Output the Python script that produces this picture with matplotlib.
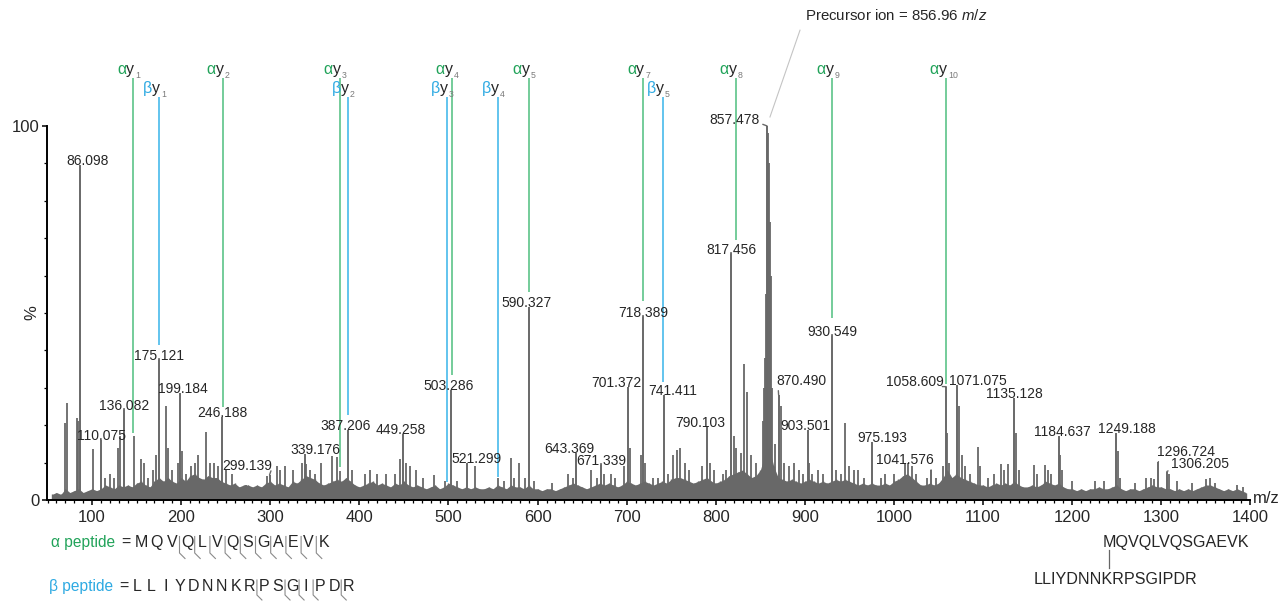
import matplotlib
matplotlib.use('Agg')
import matplotlib.pyplot as plt
import numpy as np

plt.rcParams['font.family'] = ['Liberation Sans', 'DejaVu Sans']
plt.rcParams['mathtext.fontset'] = 'custom'
plt.rcParams['mathtext.it'] = 'Liberation Sans:italic'
plt.rcParams['mathtext.rm'] = 'Liberation Sans'

PEAK = '#686868'
TXT = '#262626'
SUB = '#7a7a7a'
GREEN_TXT = '#22a35a'
GREEN_LINE = '#74cc9a'
BLUE_TXT = '#2eaae2'
BLUE_LINE = '#62c4ee'

# labelled fragment peaks (m/z, relative intensity %)
label_mz = [86.098, 110.075, 136.082, 175.121, 199.184, 246.188, 299.139,
            339.176, 387.206, 449.258, 503.286, 521.299, 590.327, 643.369,
            671.339, 701.372, 718.389, 741.411, 790.103, 817.456, 857.478,
            870.490, 903.501, 930.549, 975.193, 1041.576, 1058.609, 1071.075,
            1135.128, 1184.637, 1249.188, 1296.724, 1306.205]
label_int = [89.6, 16.0, 24.1, 37.4, 28.6, 22.2, 6.7,
             12.3, 18.7, 17.6, 29.4, 9.9, 51.6, 12.6,
             9.4, 30.2, 48.9, 28.1, 19.5, 65.8, 100.0,
             28.1, 18.7, 43.9, 15.6, 8.0, 30.3, 30.7,
             27.3, 17.1, 17.9, 10.2, 7.6]

# unlabelled peaks
minor_mz = [69.6, 71.5, 83.4, 84.5, 100.7, 115, 120, 125, 129, 131, 146.5,
            155, 158, 163, 168, 172, 182.5, 185, 190, 196, 201, 205, 211, 215,
            219, 227.5, 232, 237, 241, 250, 257, 273, 296, 307, 311, 316, 326,
            336, 340, 345, 350, 357, 369.5, 374.5, 378, 392, 406, 412, 420, 430,
            440, 446, 452, 457, 464, 471, 483.7, 496, 509, 530, 555, 562, 569.8,
            574, 579, 586, 596, 616, 633.8, 640, 660, 667, 675, 682, 687, 697,
            704, 716, 721, 730, 735, 746, 752, 756, 760, 765, 770, 785, 793, 798,
            808, 812, 820, 823, 828, 831.7, 835, 839, 845, 852.6, 854, 855.5,
            856.5, 858.5, 859.5, 860.5, 861.5, 863, 866, 873, 877, 882, 888, 893,
            898, 905, 908, 915, 920, 935, 941, 945.5, 950, 955, 960, 966, 985,
            990, 1000, 1012, 1016, 1020, 1025, 1037, 1047, 1055, 1060, 1062,
            1073, 1076, 1080, 1085, 1094.6, 1097, 1105, 1112, 1120, 1124, 1128,
            1137, 1140, 1157, 1160, 1170, 1173, 1176, 1186, 1188, 1200, 1226,
            1236, 1251, 1254, 1270, 1283, 1288, 1292, 1309, 1318, 1335, 1350,
            1355, 1360, 1385, 1392]
minor_int = [20.5, 26, 22, 21, 13.6, 6, 7, 6, 14, 17, 17,
             11, 10, 6, 8, 12, 25, 14, 8, 10, 13, 7, 9, 10,
             12, 18.3, 10, 10, 9, 8, 7, 4, 6.5, 9, 8, 9, 8,
             10, 9.5, 8, 7, 9.8, 11.8, 11.6, 7.8, 8, 7, 8, 7, 7,
             7, 11, 10, 9, 8, 6, 6.7, 5, 5, 9, 6, 5, 11.2,
             6, 9.8, 6, 5, 4.5, 7, 6, 8, 6, 7, 7, 6, 9,
             14, 12, 10, 6, 6, 7, 12, 13.4, 14, 10, 8, 9, 10, 8,
             7, 8, 17, 14, 12.6, 36.4, 29, 12, 10, 21, 30, 38,
             55, 98, 90, 74.4, 60, 30, 15, 25, 10, 9, 10, 8,
             7, 10, 7, 8, 7, 8, 7, 20.5, 9, 8, 8, 6, 6,
             7, 7, 10, 10, 9, 7, 6, 6, 9, 18, 10,
             25, 12, 9, 7, 14.3, 9, 6, 7, 9.5, 8, 9.5,
             18, 8, 9.3, 7, 9.4, 8, 7, 12, 8, 5, 5,
             5, 13, 6, 4.5, 6, 6, 5.5, 7, 5, 4.5, 5.5,
             6, 4.5, 4, 3.5]

# baseline noise, every 5 m/z from 55 to 1395
noise_mz = np.arange(55, 1400, 5)
noise_int = [
    1.5, 2, 1.5, 3, 2, 2.5, 3, 2, 2.5,
    3, 2.5, 3, 4, 3.5, 3, 4, 3.5, 4, 3.5, 4.5, 5, 4, 3.5, 5, 6, 5, 6, 5, 4.5,
    6, 5, 6.5, 7, 6, 5.5, 6.5, 6, 6, 5, 4.5, 4, 4.5, 3.5, 4, 4, 3.5, 4, 3.5, 4.5,
    5, 4, 4.5, 4, 3.5, 5, 4.5, 5.5, 6.5, 6, 5.5, 4.5, 4, 4.5, 5, 5.5, 5, 6, 5, 4,
    3.5, 4, 4.5, 5, 4, 4.5, 4, 3.5, 4.5, 4, 5, 4, 3.5, 4, 3.5, 3, 3.5, 4, 3, 3.5,
    4.5, 4, 3.5, 3, 3.5, 3, 3.5, 3, 3, 3.5, 3, 4, 3.5, 3, 4, 3.5, 3.5, 3, 4, 3,
    3, 2.5, 3, 3, 2.5, 3, 3.5, 4, 4.5, 4, 3.5, 3, 3.5, 4, 4.5, 4, 4.5, 4, 3.5, 4,
    5, 4.5, 4, 4.5, 5, 4.5, 4, 4.5, 5, 4.5, 5.5, 6, 6, 5.5, 5, 4.5, 5, 5.5, 6, 5,
    4.5, 5, 5.5, 6.5, 7, 7.5, 8, 7, 6, 6.5, 8, 12, 14, 9, 6, 5.5, 5, 5.5, 5, 4.5,
    5, 5.5, 5, 4.5, 5, 4.5, 5, 5.5, 5, 5.5, 5, 4.5, 4, 4.5, 4, 4.5, 4, 4, 4.5, 4,
    5, 5.5, 6.5, 7, 6, 5, 4, 4, 4.5, 4, 4.5, 6, 8, 6, 7, 6, 5.5, 5, 4.5, 4,
    4, 3.5, 4, 4.5, 4, 4.5, 4, 5, 4, 3.5, 3.5, 4, 3.5, 4, 5, 4.5, 4, 4.5, 3.5, 3,
    3, 2.5, 3, 2.5, 3, 3, 3.5, 3, 3, 3.5, 4, 3, 2.5, 3, 3, 2.5, 3, 3.5, 4, 3.5,
    3.5, 3, 3, 2.5, 3, 2.5, 3, 2.5, 3, 3.5, 4, 4, 3.5, 3, 2.5, 3, 2.5, 3, 2.5, 2,
]

# assigned y ions: line position, lower end of line (%), ion number
alpha_mz = [146.1, 246.6, 378.2, 503.6, 590.3, 718.4, 822.3, 930.8, 1058.3]
alpha_end = [18.0, 24.9, 8.9, 33.4, 55.7, 53.2, 69.5, 48.7, 31.0]
alpha_num = [1, 2, 3, 4, 5, 7, 8, 9, 10]
beta_mz = [175.1, 387.2, 498.0, 555.2, 740.4]
beta_end = [41.4, 22.7, 4.9, 6.2, 31.6]
beta_num = [1, 2, 3, 4, 5]

precursor_text = 'Precursor ion = 856.96 $m/z$'
alpha_seq = 'MQVQLVQSGAEVK'
beta_seq = 'LLIYDNNKRPSGIPDR'
alpha_cuts = [2, 3, 4, 5, 6, 7, 8, 9, 10, 11]
beta_cuts = [8, 10, 11, 12, 14]

# label nudges in pixels (dx, dy) and leader lines
PX = 0.72
LABEL_NUDGE = {
    '86.098': (8, 0), '199.184': (2, 0), '299.139': (-22, 5),
    '339.176': (10, 0), '387.206': (-2, 0), '449.258': (-3, 0),
    '503.286': (-3, 0), '521.299': (9, 0), '590.327': (-2, 0),
    '643.369': (-7, 0), '701.372': (-12, 0), '741.411': (9, 0),
    '790.103': (-7, 0), '870.490': (23, 10), '903.501': (-3, 0),
    '975.193': (10, 0), '1041.576': (-26, 6), '1058.609': (-31, 1),
    '1071.075': (21, 0), '1184.637': (4, 0), '1249.188': (11, 0),
    '1296.724': (28, 6), '1306.205': (33, 4),
}
LEADER_LEFT = ['299.139', '1041.576', '1058.609']
LEADER_RIGHT = ['870.490', '1296.724', '1306.205']
LABEL_FS = 10

W, H = 1288, 601
fig = plt.figure(figsize=(W / 100, H / 100), dpi=100)
ax = fig.add_axes([47.1 / W, 101 / H, (1250.4 - 47.1) / W, 490 / H])
ax.set_xlim(49.5, 1400)
ax.set_ylim(0, 131)
ax.patch.set_alpha(0)

# spectrum
ax.fill_between(noise_mz, 0, noise_int, color=PEAK, lw=0)
ax.vlines(noise_mz, 0, noise_int, color=PEAK, lw=1.0)
ax.vlines(minor_mz, 0, minor_int, color=PEAK, lw=1.3)
ax.vlines(label_mz, 0, label_int, color=PEAK, lw=1.4)

# axes styling
for s in ['top', 'right']:
    ax.spines[s].set_visible(False)
ax.spines['left'].set_bounds(0, 100)
ax.spines['left'].set_linewidth(1.4)
ax.spines['bottom'].set_linewidth(1.4)
ax.set_yticks([0, 100])
ax.set_yticks(np.arange(10, 100, 10), minor=True)
ax.set_xticks(np.arange(100, 1401, 100))
ax.set_xticks(np.arange(50, 1401, 10), minor=True)
ax.tick_params(axis='both', which='major', direction='out', length=3.5, width=1.1,
               labelsize=12, colors='black', pad=2)
ax.tick_params(axis='x', which='major', labelcolor=TXT, pad=4)
ax.tick_params(axis='y', which='major', labelcolor=TXT)
ax.tick_params(axis='both', which='minor', direction='out', length=2, width=0.9)

# peak labels
for mz, h in zip(label_mz, label_int):
    key = f'{mz:.3f}'
    if key == '857.478':
        ax.annotate(key, xy=(mz, h), xytext=(-7 * PX, 1.5 * PX), textcoords='offset points',
                    ha='right', va='baseline', fontsize=LABEL_FS, color=TXT,
                    arrowprops=dict(arrowstyle='-', color=PEAK, lw=1.0, shrinkA=0, shrinkB=0,
                                    relpos=(1, 0.3)))
        continue
    dx, dy = LABEL_NUDGE.get(key, (0, 0))
    arrow = None
    if key in LEADER_LEFT:
        arrow = dict(arrowstyle='-', color=PEAK, lw=1.0, shrinkA=0, shrinkB=0, relpos=(0.97, 0.15))
    elif key in LEADER_RIGHT:
        arrow = dict(arrowstyle='-', color=PEAK, lw=1.0, shrinkA=0, shrinkB=0, relpos=(0.03, 0.15))
    ax.annotate(key, xy=(mz, h), xytext=(dx * PX, dy * PX), textcoords='offset points',
                ha='center', va='baseline', fontsize=LABEL_FS, color=TXT, arrowprops=arrow)


# ion assignment lines and labels
def ion(mz, end, num, greek, top, gcol, lcol):
    ax.vlines(mz, end, top, color=lcol, lw=1.4)
    base = top + 1.0
    yt = ax.annotate('y', xy=(mz, base), xytext=(0.9, 0), textcoords='offset points',
                     ha='right', va='baseline', fontsize=11.5, color=TXT)
    ax.annotate(greek, xy=(0, base), xycoords=(yt, 'data'), xytext=(-0.2, 0),
                textcoords='offset points', ha='right', va='baseline', fontsize=11.5, color=gcol)
    ax.annotate(str(num), xy=(1, base), xycoords=(yt, 'data'), xytext=(0.6, -2.6),
                textcoords='offset points', ha='left', va='baseline', fontsize=6.3, color=SUB)


for mz, e, n in zip(alpha_mz, alpha_end, alpha_num):
    ion(mz, e, n, 'α', 112.8, GREEN_TXT, GREEN_LINE)
for mz, e, n in zip(beta_mz, beta_end, beta_num):
    ion(mz, e, n, 'β', 107.8, BLUE_TXT, BLUE_LINE)

# precursor annotation
ax.text(1002.8, 128.3, precursor_text, ha='center', va='baseline', fontsize=10.8, color=TXT)
ax.plot([860.8, 894.5], [102.4, 125.6], color='#c4c4c4', lw=0.8, clip_on=False)

# overlay in pixel coordinates for the text under the axis
ov = fig.add_axes([0, 0, 1, 1])
ov.set_xlim(0, W)
ov.set_ylim(H, 0)
ov.axis('off')

ov.text(32, 313, '%', rotation=90, ha='center', va='center', fontsize=12, color=TXT)
ov.text(1253, 503, 'm/z', ha='left', va='baseline', fontsize=12, color=TXT)

# alpha peptide row
ov.text(51.5, 547, 'α peptide', ha='left', va='baseline', fontsize=11.2, color=GREEN_TXT)
ov.text(125.5, 547, '=', ha='center', va='baseline', fontsize=11.5, color=TXT)
ax_x = [141.5 + 15.2 * i for i in range(len(alpha_seq))]
for x, aa in zip(ax_x, alpha_seq):
    ov.text(x, 547, aa, ha='center', va='baseline', fontsize=11.5, color=TXT)
for c in alpha_cuts:
    x = (ax_x[c] + ax_x[c + 1]) / 2
    ov.plot([x, x, x + 5.5], [536.5, 553, 558.5], color='#8a8a8a', lw=0.8)

# beta peptide row
ov.text(49.3, 591, 'β peptide', ha='left', va='baseline', fontsize=11.2, color=BLUE_TXT)
ov.text(123.5, 591, '=', ha='center', va='baseline', fontsize=11.5, color=TXT)
bx_x = [137.5 + 14.05 * i for i in range(len(beta_seq))]
for x, aa in zip(bx_x, beta_seq):
    ov.text(x, 591, aa, ha='center', va='baseline', fontsize=11.5, color=TXT)
for c in beta_cuts:
    x = (bx_x[c] + bx_x[c + 1]) / 2
    ov.plot([x, x, x + 5], [580, 595, 600], color='#8a8a8a', lw=0.8)

# cross-linked pair
ov.text(1103, 547, alpha_seq, ha='left', va='baseline', fontsize=11.6, color=TXT)
ov.text(1197, 584, beta_seq, ha='right', va='baseline', fontsize=11.6, color=TXT)
ov.plot([1109, 1109], [550, 568], color='#666666', lw=0.9)

fig.savefig('out.png', dpi=100)
